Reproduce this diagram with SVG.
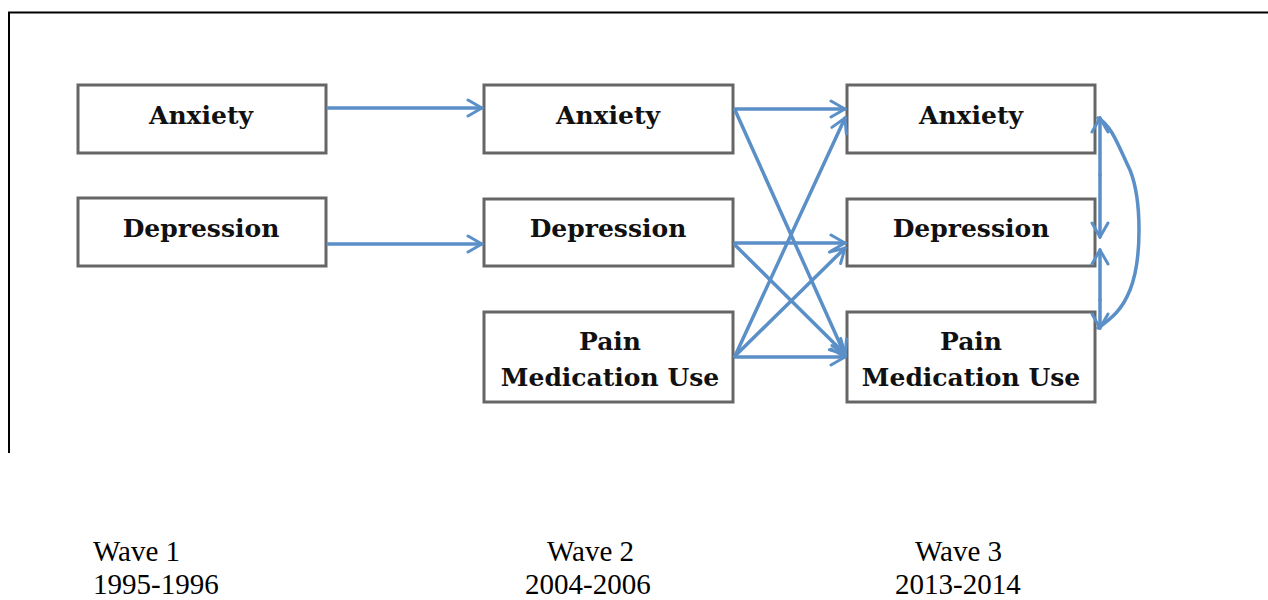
<svg xmlns="http://www.w3.org/2000/svg" width="1268" height="600" viewBox="0 0 1268 600">
<style>
.box{fill:#fff;stroke:#666;stroke-width:3}
.lbl{font-family:"DejaVu Serif","Liberation Serif",serif;font-weight:bold;font-size:25px;fill:#111;text-anchor:middle}
.wave{font-family:"Liberation Serif",serif;font-size:29px;fill:#000}
.arr{fill:none;stroke:#5b8fc7;stroke-width:3.5;stroke-linecap:round}
</style>
<defs>
<marker id="ah" viewBox="0 0 20 20" refX="18" refY="10" markerWidth="20" markerHeight="20" markerUnits="userSpaceOnUse" orient="auto">
<path d="M4,2 L18,10 L4,18" fill="none" stroke="#5b8fc7" stroke-width="3" stroke-linecap="round"/>
</marker>
</defs>
<rect width="1268" height="600" fill="#fff"/>
<g id="frame" fill="none" stroke="#000" stroke-width="2">
<path d="M9,453 V12.5 H1268"/>
</g>
<g id="w1-anxiety"><rect class="box" x="78" y="85" width="248" height="68"/><text class="lbl" x="201" y="124">Anxiety</text></g>
<g id="w1-depression"><rect class="box" x="78" y="198" width="248" height="68"/><text class="lbl" x="201" y="237">Depression</text></g>
<g id="w2-anxiety"><rect class="box" x="484" y="85" width="249" height="68"/><text class="lbl" x="608" y="124">Anxiety</text></g>
<g id="w2-depression"><rect class="box" x="484" y="199" width="249" height="67"/><text class="lbl" x="608" y="237">Depression</text></g>
<g id="w2-pain"><rect class="box" x="484" y="312" width="249" height="90"/><text class="lbl" x="610" y="350">Pain</text><text class="lbl" x="610" y="386">Medication Use</text></g>
<g id="w3-anxiety"><rect class="box" x="847" y="85" width="248" height="68"/><text class="lbl" x="971" y="124">Anxiety</text></g>
<g id="w3-depression"><rect class="box" x="847" y="199" width="248" height="67"/><text class="lbl" x="971" y="237">Depression</text></g>
<g id="w3-pain"><rect class="box" x="847" y="312" width="248" height="90"/><text class="lbl" x="971" y="350">Pain</text><text class="lbl" x="971" y="386">Medication Use</text></g>
<g id="connectors">
<line class="arr" x1="328" y1="108" x2="482" y2="108" marker-end="url(#ah)"/>
<line class="arr" x1="328" y1="244" x2="482" y2="244" marker-end="url(#ah)"/>
<line class="arr" x1="735" y1="109" x2="845" y2="109" marker-end="url(#ah)"/>
<line class="arr" x1="735" y1="110" x2="845" y2="355" marker-end="url(#ah)"/>
<line class="arr" x1="735" y1="243" x2="845" y2="243" marker-end="url(#ah)"/>
<line class="arr" x1="735" y1="245" x2="845" y2="354" marker-end="url(#ah)"/>
<line class="arr" x1="735" y1="356" x2="845" y2="118" marker-end="url(#ah)"/>
<line class="arr" x1="735" y1="356" x2="845" y2="248" marker-end="url(#ah)"/>
<line class="arr" x1="735" y1="357" x2="845" y2="357" marker-end="url(#ah)"/>
<line class="arr" x1="1100" y1="175" x2="1100" y2="118" marker-end="url(#ah)"/>
<line class="arr" x1="1100" y1="175" x2="1100" y2="237" marker-end="url(#ah)"/>
<line class="arr" x1="1100" y1="300" x2="1100" y2="250" marker-end="url(#ah)"/>
<line class="arr" x1="1100" y1="300" x2="1100" y2="328" marker-end="url(#ah)"/>
<path class="arr" d="M1098,118 C1112,125 1120,150 1130,170 C1142,200 1142,260 1130,290 C1122,310 1112,318 1098,328"/>
</g>
<g id="wave-labels">
<text class="wave" x="93" y="561">Wave 1</text>
<text class="wave" x="93" y="594">1995-1996</text>
<text class="wave" x="547" y="561">Wave 2</text>
<text class="wave" x="525" y="594">2004-2006</text>
<text class="wave" x="915" y="561">Wave 3</text>
<text class="wave" x="895" y="594">2013-2014</text>
</g>
</svg>
